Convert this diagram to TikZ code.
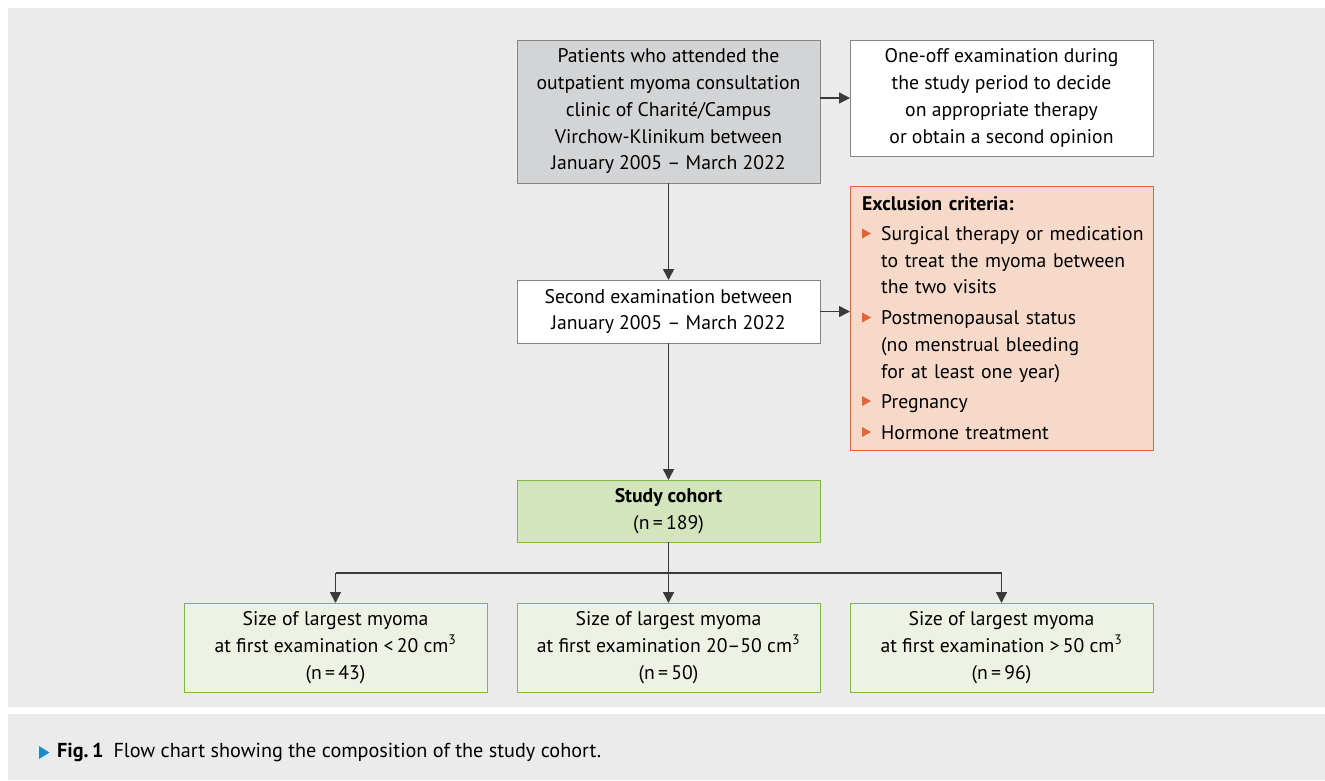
\documentclass[tikz,border=0pt]{standalone}
\usepackage{fontspec}
\setmainfont{PT Sans}
\usetikzlibrary{arrows.meta,positioning}
\definecolor{bg}{HTML}{EAEBEA}
\definecolor{boxgray}{HTML}{858585}
\definecolor{grayfill}{HTML}{D3D4D6}
\definecolor{excfill}{HTML}{F6D9C8}
\definecolor{exc}{HTML}{E3643A}
\definecolor{gfill}{HTML}{D4E5BE}
\definecolor{gline}{HTML}{7DB944}
\definecolor{lgfill}{HTML}{EDF2E4}
\definecolor{capblue}{HTML}{1A8BC9}
\definecolor{linec}{HTML}{3A3A3A}
\newcommand{\mainfs}{\fontsize{19.7}{26.75}\selectfont}
\newcommand{\capfs}{\fontsize{20.2}{26}\selectfont}
\begin{document}
\begin{tikzpicture}[x=1pt,y=-1pt,
  box/.style={draw=boxgray, line width=1pt, anchor=north west, inner sep=0pt, outer sep=0pt,
    align=center, font=\mainfs, minimum width=303pt},
  greenbox/.style={box, draw=gline, fill=lgfill},
  conn/.style={draw=linec, line width=1.5pt},
  arr/.style={conn, -{Triangle[length=11pt,width=11pt]}},
  bullet/.style={fill=exc}
]
\useasboundingbox (0,0) rectangle (1325,780);
\fill[white] (0,0) rectangle (1325,780);
\fill[bg] (8,8) rectangle (1325,707);
\fill[bg] (8,714) rectangle (1325,780);

\node[box, fill=grayfill, minimum height=143pt] (A) at (517,40)
  {Patients who attended the\\outpatient myoma consultation\\clinic of Charité/Campus\\Virchow-Klinikum between\\January 2005 -- March 2022};
\node[box, fill=white, minimum height=116pt] (B) at (850,40)
  {One-off examination during\\the study period to decide\\on appropriate therapy\\or obtain a second opinion};
\node[box, draw=exc, fill=excfill, minimum height=264pt] (C) at (850,186) {};
\node[anchor=north west, inner sep=0pt, text width=289pt, align=left, font=\mainfs] (Ctext) at (862,196)
  {\textbf{Exclusion criteria:}\par\vspace{3.5pt}
   \hangindent=19pt\hangafter=1\hspace*{19pt}Surgical therapy or medication\newline to treat the myoma between\newline the two visits\par\vspace{4pt}
   \hangindent=19pt\hangafter=1\hspace*{19pt}Postmenopausal status\newline (no menstrual bleeding\newline for at least one year)\par\vspace{4pt}
   \hangindent=19pt\hangafter=1\hspace*{19pt}Pregnancy\par\vspace{4pt}
   \hangindent=19pt\hangafter=1\hspace*{19pt}Hormone treatment\par};
\foreach \yy in {233.5,317.5,401,432}
  \fill[bullet] (862,\yy-5) -- (871,\yy) -- (862,\yy+5) -- cycle;
\node[box, fill=white, minimum height=63pt] (D) at (517,280)
  {Second examination between\\January 2005 -- March 2022};
\node[box, draw=gline, fill=gfill, minimum height=62pt] (E) at (517,480)
  {\textbf{Study cohort}\\(n\,=\,189)};
\node[greenbox, minimum height=89pt] (L) at (184,603)
  {Size of largest myoma\\at first examination {<}\,20 cm\textsuperscript{3}\\(n\,=\,43)};
\node[greenbox, minimum height=89pt] (M) at (517,603)
  {Size of largest myoma\\at first examination 20--50 cm\textsuperscript{3}\\(n\,=\,50)};
\node[greenbox, minimum height=89pt] (R) at (850,603)
  {Size of largest myoma\\at first examination {>}\,50 cm\textsuperscript{3}\\(n\,=\,96)};
\coordinate (split) at (668.5,573);

\draw[arr] (A.east |- B.west) -- (B.west);
\draw[arr] (A.south) -- (D.north);
\draw[arr] (D.east) -- (D.east -| C.west);
\draw[arr] (D.south) -- (E.north);
\draw[arr] (E.south) -- (M.north);
\draw[conn] (L.north |- split) -- (R.north |- split);
\draw[arr] (L.north |- split) -- (L.north);
\draw[arr] (R.north |- split) -- (R.north);

\fill[capblue] (39,746) -- (49.5,752.5) -- (39,759) -- cycle;
\node[anchor=base west, inner sep=0pt, font=\capfs] (cap) at (57,757)
  {\textbf{Fig.\,1}\hspace{10pt}Flow chart showing the composition of the study cohort.};
\end{tikzpicture}
\end{document}
